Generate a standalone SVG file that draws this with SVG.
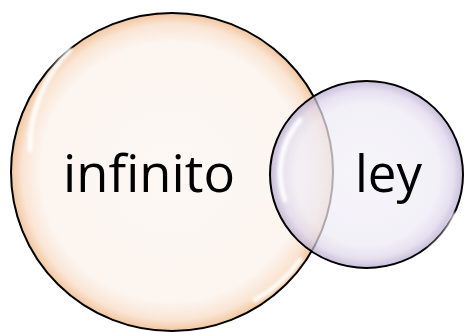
<svg xmlns="http://www.w3.org/2000/svg" width="465" height="332" viewBox="0 0 465 332">
<defs>
<radialGradient id="gBig" cx="0.5" cy="0.5" r="0.5">
<stop offset="0" stop-color="#fdf8f5"/>
<stop offset="0.82" stop-color="#fcf5f0"/>
<stop offset="0.93" stop-color="#fae5d4"/>
<stop offset="1" stop-color="#f2c6a0"/>
</radialGradient>
<radialGradient id="gSmall" cx="0.5" cy="0.5" r="0.5">
<stop offset="0" stop-color="#f3f2f8"/>
<stop offset="0.75" stop-color="#eeebf5"/>
<stop offset="0.9" stop-color="#dcd5ea"/>
<stop offset="1" stop-color="#b3a7cd"/>
</radialGradient>
<filter id="blur" x="-20%" y="-20%" width="140%" height="140%"><feGaussianBlur stdDeviation="1.5"/></filter>
<style>
.lbl{font-family:"Open Sans","Liberation Sans",sans-serif;font-size:51px;fill:#000}
.edge{stroke:#000;stroke-width:2}
.hl{fill:none;stroke:#ffffff;stroke-linecap:round;filter:url(#blur)}
</style>
</defs>
<g id="infinito">
<ellipse cx="172" cy="172" rx="161" ry="159" fill="url(#gBig)" class="edge"/>
<path d="M 70 50 A 140 140 0 0 0 30 150" class="hl" stroke-width="5" opacity="0.9"/>
<path d="M 300 260 A 140 140 0 0 1 255 300" class="hl" stroke-width="5" opacity="0.9"/>
<text class="lbl" x="63" y="192" textLength="172" lengthAdjust="spacingAndGlyphs">infinito</text>
</g>
<g id="ley">
<ellipse cx="366.5" cy="174.5" rx="96.5" ry="93.5" fill="url(#gSmall)" fill-opacity="0.72" class="edge"/>
<path d="M 300 120 A 80 80 0 0 0 285 200" class="hl" stroke-width="5" opacity="0.9"/>
<path d="M 455 215 A 85 85 0 0 1 430 250" class="hl" stroke-width="5" opacity="0.9"/>
<text class="lbl" x="355" y="192" textLength="67" lengthAdjust="spacingAndGlyphs">ley</text>
</g>
<g id="connectors"/>
</svg>
